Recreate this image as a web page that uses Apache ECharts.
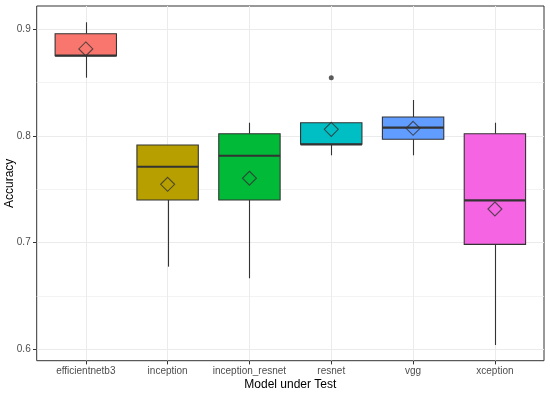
<!DOCTYPE html>
<html>
<head>
<meta charset="utf-8">
<script src="https://cdn.jsdelivr.net/npm/echarts@6/dist/echarts.min.js"></script>
<style>html,body{margin:0;padding:0;background:#fff}#c{width:550px;height:393px}</style>
</head>
<body>
<div id="c"></div>
<script>
// Data
var categories = ['efficientnetb3', 'inception', 'inception_resnet', 'resnet', 'vgg', 'xception'];
var colors = ['#F8766D', '#B79F00', '#00BA38', '#00BFC4', '#619CFF', '#F564E3'];
var whiskerLow = [0.8544, 0.6774, 0.6665, 0.7817, 0.7817, 0.6040];
var q1 = [0.8750, 0.7398, 0.7398, 0.7920, 0.7967, 0.6983];
var median = [0.8750, 0.7710, 0.7813, 0.7920, 0.8076, 0.7395];
var q3 = [0.8956, 0.7914, 0.8019, 0.8122, 0.8176, 0.8019];
var whiskerHigh = [0.9063, 0.7914, 0.8122, 0.8122, 0.8335, 0.8122];
var means = [0.8813, 0.7545, 0.7602, 0.8060, 0.8070, 0.7314];
var outliers = [[3, 0.8544]];
var yTicks = [0.6, 0.7, 0.8, 0.9];
var yMinor = [0.65, 0.75, 0.85];

var boxData = categories.map(function (c, i) {
  return [i, whiskerLow[i], q1[i], median[i], q3[i], whiskerHigh[i]];
});
var meanData = categories.map(function (c, i) { return [i, means[i]]; });
var xIdx = categories.map(function (c, i) { return i; });

var chart = echarts.init(document.getElementById('c'));
var BOXW = 0.75;
function renderBox(params, api) {
  var x = api.value(0);
  var lo = api.coord([x, api.value(1)]);
  var b1 = api.coord([x, api.value(2)]);
  var md = api.coord([x, api.value(3)]);
  var b3 = api.coord([x, api.value(4)]);
  var hi = api.coord([x, api.value(5)]);
  var left = api.coord([x - BOXW / 2, api.value(3)])[0];
  var right = api.coord([x + BOXW / 2, api.value(3)])[0];
  var cx = Math.round(lo[0]) + 0.5;
  var stroke = '#333333';
  return {
    type: 'group',
    children: [
      { type: 'line', shape: { x1: cx, y1: hi[1], x2: cx, y2: b3[1] }, style: { stroke: stroke, lineWidth: 1.1 } },
      { type: 'line', shape: { x1: cx, y1: b1[1], x2: cx, y2: lo[1] }, style: { stroke: stroke, lineWidth: 1.1 } },
      { type: 'rect', shape: { x: left, y: b3[1], width: right - left, height: b1[1] - b3[1] },
        style: { fill: colors[params.dataIndex], stroke: stroke, lineWidth: 1.1 } },
      { type: 'line', shape: { x1: left, y1: md[1], x2: right, y2: md[1] }, style: { stroke: stroke, lineWidth: 2.2 } }
    ]
  };
}

chart.setOption({
  animation: false,
  backgroundColor: '#ffffff',
  grid: { left: 36.7, right: 6, top: 6, bottom: 32.3, containLabel: false, outerBoundsMode: 'none',
    show: true, borderColor: '#333333', borderWidth: 1, backgroundColor: '#ffffff' },
  xAxis: {
    type: 'value', min: -0.6, max: 5.6,
    name: 'Model under Test', nameLocation: 'middle', nameGap: 18, nameMoveOverlap: false,
    nameTextStyle: { color: '#000', fontSize: 12, fontFamily: 'Liberation Sans' },
    axisLine: { show: false, onZero: false },
    axisTick: { show: true, length: 3.7, customValues: xIdx, lineStyle: { color: '#333333', width: 1 } },
    axisLabel: { customValues: xIdx, margin: 6, color: '#4D4D4D', fontSize: 10, fontFamily: 'Liberation Sans',
      formatter: function (v) { return categories[Math.round(v)] || ''; } },
    splitLine: { show: true, lineStyle: { color: '#EBEBEB', width: 1 } }
  },
  yAxis: [{
    type: 'value', min: 0.58932, max: 0.92154,
    name: 'Accuracy', nameLocation: 'middle', nameGap: 21, nameMoveOverlap: false,
    nameTextStyle: { color: '#000', fontSize: 12, fontFamily: 'Liberation Sans' },
    axisLine: { show: false, onZero: false },
    axisTick: { show: true, length: 3.7, customValues: yTicks, lineStyle: { color: '#333333', width: 1 } },
    axisLabel: { customValues: yTicks, margin: 6, color: '#4D4D4D', fontSize: 10, fontFamily: 'Liberation Sans',
      formatter: function (v) { return v.toFixed(1); } },
    splitLine: { show: true, lineStyle: { color: '#EBEBEB', width: 1 } }
  }, {
    type: 'value', min: 0.58932, max: 0.92154, position: 'left',
    axisLine: { show: false, onZero: false },
    axisTick: { show: false, customValues: yMinor },
    axisLabel: { show: false, customValues: yMinor },
    splitLine: { show: true, lineStyle: { color: '#F0F0F0', width: 0.8 } }
  }],
  series: [{
    type: 'custom', renderItem: renderBox, data: boxData, z: 2,
    encode: { x: 0, y: [1, 2, 3, 4, 5] }
  }, {
    type: 'scatter', data: meanData, symbol: 'diamond', symbolSize: 14, z: 3,
    itemStyle: { color: 'rgba(0,0,0,0)', borderColor: '#333333', borderWidth: 1.1 }
  }, {
    type: 'scatter', data: outliers, symbol: 'circle', symbolSize: 5, z: 3,
    itemStyle: { color: '#333333' }
  }]
});
</script>
</body>
</html>
